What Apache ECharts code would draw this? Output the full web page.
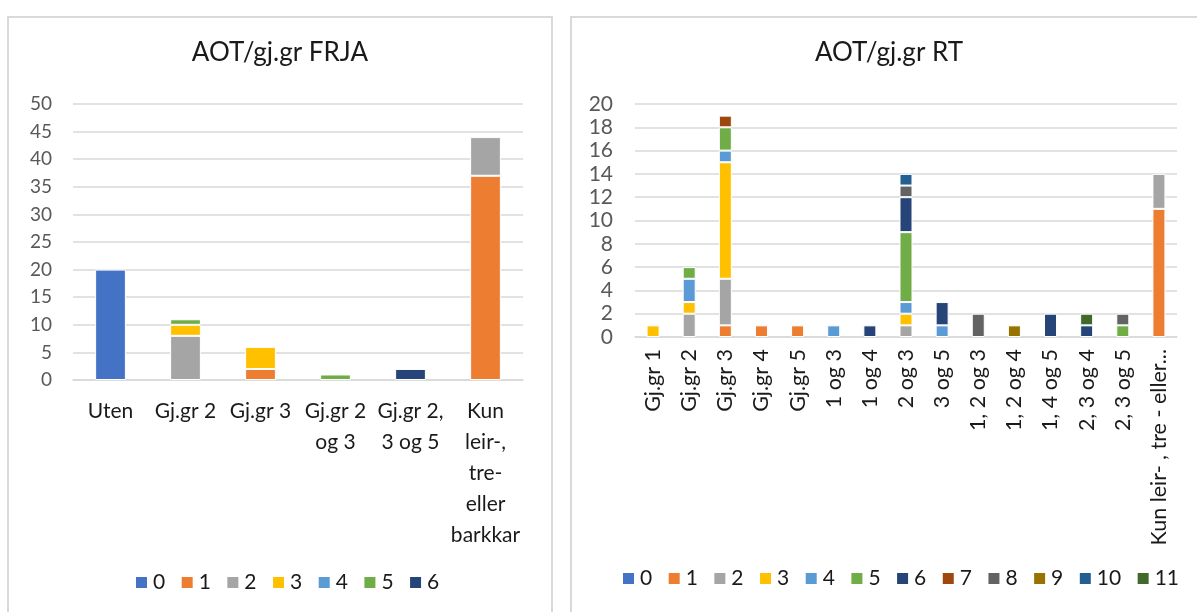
<!DOCTYPE html>
<html>
<head>
<meta charset="utf-8">
<script src="https://cdn.jsdelivr.net/npm/echarts@6/dist/echarts.min.js"></script>
<style>
  html, body { margin: 0; padding: 0; background: #ffffff; }
  #chart { width: 1197px; height: 612px; }
</style>
</head>
<body>
<div id="chart"></div>
<script>
// ---- FRJA panel ----
const frjaTitle = 'AOT/gj.gr FRJA';
const frjaCategories = ['Uten', 'Gj.gr 2', 'Gj.gr 3', 'Gj.gr 2\nog 3', 'Gj.gr 2,\n3 og 5', 'Kun\nleir-,\ntre-\neller\nbarkkar'];
const frjaTicks = [0, 5, 10, 15, 20, 25, 30, 35, 40, 45, 50];
const frja0 = [20, 0, 0, 0, 0, 0];
const frja1 = [0, 0, 2, 0, 0, 37];
const frja2 = [0, 8, 0, 0, 0, 7];
const frja3 = [0, 2, 4, 0, 0, 0];
const frja4 = [0, 0, 0, 0, 0, 0];
const frja5 = [0, 1, 0, 1, 0, 0];
const frja6 = [0, 0, 0, 0, 2, 0];

// ---- RT panel ----
const rtTitle = 'AOT/gj.gr RT';
const rtCategories = ['Gj.gr 1', 'Gj.gr 2', 'Gj.gr 3', 'Gj.gr 4', 'Gj.gr 5', '1 og 3', '1 og 4', '2 og 3', '3 og 5',
  '1, 2 og 3', '1, 2 og 4', '1, 4 og 5', '2, 3 og 4', '2, 3 og 5', 'Kun leir- , tre - eller barkkar'];
const rtTicks = [0, 2, 4, 6, 8, 10, 12, 14, 16, 18, 20];
const rt0  = [0, 0, 0, 0, 0, 0, 0, 0, 0, 0, 0, 0, 0, 0, 0];
const rt1  = [0, 0, 1, 1, 1, 0, 0, 0, 0, 0, 0, 0, 0, 0, 11];
const rt2  = [0, 2, 4, 0, 0, 0, 0, 1, 0, 0, 0, 0, 0, 0, 3];
const rt3  = [1, 1, 10, 0, 0, 0, 0, 1, 0, 0, 0, 0, 0, 0, 0];
const rt4  = [0, 2, 1, 0, 0, 1, 0, 1, 1, 0, 0, 0, 0, 0, 0];
const rt5  = [0, 1, 2, 0, 0, 0, 0, 6, 0, 0, 0, 0, 0, 1, 0];
const rt6  = [0, 0, 0, 0, 0, 0, 1, 3, 2, 0, 0, 2, 1, 0, 0];
const rt7  = [0, 0, 1, 0, 0, 0, 0, 0, 0, 0, 0, 0, 0, 0, 0];
const rt8  = [0, 0, 0, 0, 0, 0, 0, 1, 0, 2, 0, 0, 0, 1, 0];
const rt9  = [0, 0, 0, 0, 0, 0, 0, 0, 0, 0, 1, 0, 0, 0, 0];
const rt10 = [0, 0, 0, 0, 0, 0, 0, 1, 0, 0, 0, 0, 0, 0, 0];
const rt11 = [0, 0, 0, 0, 0, 0, 0, 0, 0, 0, 0, 0, 1, 0, 0];

const seriesNames = ['0', '1', '2', '3', '4', '5', '6', '7', '8', '9', '10', '11'];
const palette = ['#4472C4', '#ED7D31', '#A5A5A5', '#FFC000', '#5B9BD5', '#70AD47',
  '#264478', '#9E480E', '#636363', '#997300', '#255E91', '#43682B'];

const frjaSeries = [frja0, frja1, frja2, frja3, frja4, frja5, frja6];
const rtSeries = [rt0, rt1, rt2, rt3, rt4, rt5, rt6, rt7, rt8, rt9, rt10, rt11];

const FONT = 'Lato';
const DARK = '#1a1a1a';
const GREY = '#595959';
const RULE = '#D9D9D9';

function barSeries(values, k, axis, stack, gap) {
  return {
    type: 'bar',
    id: stack + '-' + k,
    name: seriesNames[k],
    xAxisIndex: axis,
    yAxisIndex: axis,
    stack: stack,
    barCategoryGap: gap,
    data: values.map(v => (v === 0 ? '-' : v)),
    itemStyle: { color: palette[k], borderColor: '#ffffff', borderWidth: 1 },
    emphasis: { disabled: true },
    animation: false
  };
}

function valueAxis(ticks, grid, fontSize, margin) {
  return {
    type: 'value',
    gridIndex: grid,
    min: ticks[0],
    max: ticks[ticks.length - 1],
    interval: ticks[1] - ticks[0],
    axisLine: { show: false },
    axisTick: { show: false },
    splitLine: { lineStyle: { color: RULE, width: 1.5 } },
    axisLabel: { color: GREY, fontFamily: FONT, fontSize: fontSize, margin: margin }
  };
}

const option = {
  backgroundColor: '#ffffff',
  animation: false,
  graphic: [
    { type: 'rect', silent: true, z: -10, shape: { x: 8, y: 17, width: 544, height: 640 },
      style: { fill: 'none', stroke: RULE, lineWidth: 2 } },
    { type: 'rect', silent: true, z: -10, shape: { x: 571, y: 17, width: 700, height: 640 },
      style: { fill: 'none', stroke: RULE, lineWidth: 2 } }
  ],
  title: [
    { text: frjaTitle, left: 280, top: 40, textAlign: 'center', padding: 0,
      textStyle: { fontFamily: FONT, fontSize: 26, fontWeight: 'normal', color: DARK } },
    { text: rtTitle, left: 889, top: 40, textAlign: 'center', padding: 0,
      textStyle: { fontFamily: FONT, fontSize: 26, fontWeight: 'normal', color: DARK } }
  ],
  legend: [
    { data: seriesNames.slice(0, 7), left: 134, top: 572, padding: 0, icon: 'rect',
      itemWidth: 13, itemHeight: 13, itemGap: 14.5, selectedMode: false,
      textStyle: { fontFamily: FONT, fontSize: 21, color: DARK } },
    { data: seriesNames.slice(), left: 621, top: 568, padding: 0, icon: 'rect',
      itemWidth: 13, itemHeight: 13, itemGap: 14.5, selectedMode: false,
      textStyle: { fontFamily: FONT, fontSize: 21, color: DARK } }
  ],
  grid: [
    { left: 73, top: 104, width: 450, height: 276 },
    { left: 635, top: 104, width: 542, height: 233 }
  ],
  xAxis: [
    { type: 'category', gridIndex: 0, data: frjaCategories,
      axisLine: { lineStyle: { color: RULE, width: 1.5 } }, axisTick: { show: false },
      axisLabel: { interval: 0, color: DARK, fontFamily: FONT, fontSize: 21, lineHeight: 31, margin: 16 } },
    { type: 'category', gridIndex: 1, data: rtCategories,
      axisLine: { lineStyle: { color: RULE, width: 1.5 } }, axisTick: { show: false },
      axisLabel: { interval: 0, rotate: 90, color: DARK, fontFamily: FONT, fontSize: 21.5, margin: 12,
        width: 200, overflow: 'truncate', ellipsis: '...' } }
  ],
  yAxis: [
    valueAxis(frjaTicks, 0, 19, 21),
    valueAxis(rtTicks, 1, 21, 22)
  ],
  series: [
    ...frjaSeries.map((vals, k) => barSeries(vals, k, 0, 'frja', '59%')),
    ...rtSeries.map((vals, k) => barSeries(vals, k, 1, 'rt', '64%'))
  ]
};

const chart = echarts.init(document.getElementById('chart'), null, { renderer: 'canvas' });
chart.setOption(option);
</script>
</body>
</html>
